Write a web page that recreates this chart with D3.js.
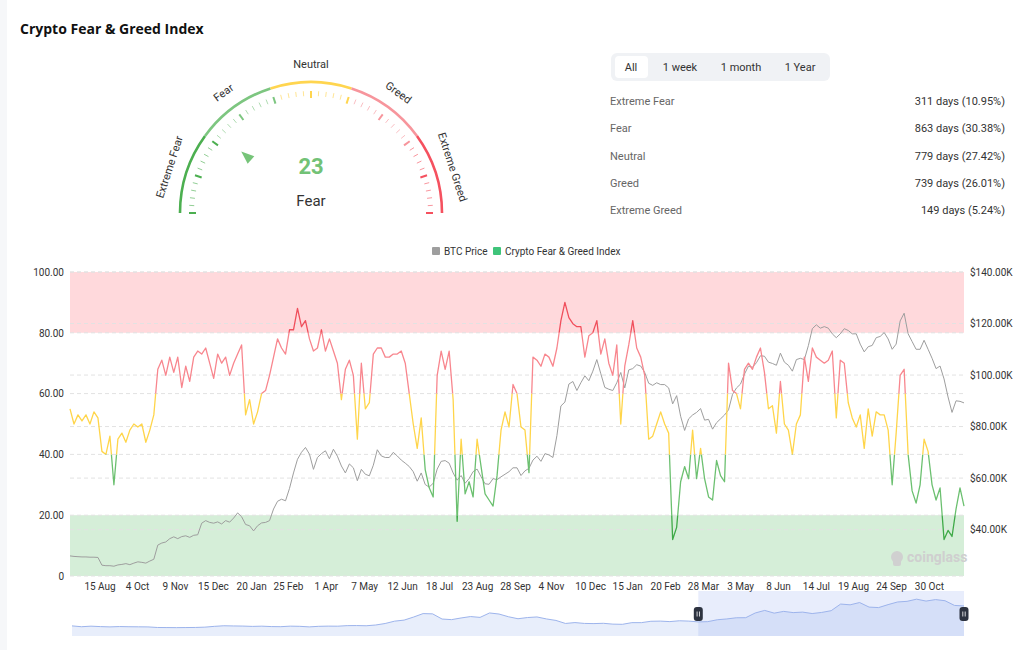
<!DOCTYPE html>
<html>
<head>
<meta charset="utf-8">
<script src="https://cdn.jsdelivr.net/npm/d3@7"></script>
<style>
body { margin: 0; background: #fff; font-family: Roboto, "Noto Sans", sans-serif; }
svg { display: block; }
</style>
</head>
<body>
<svg id="chart" width="1024" height="650"></svg>
<script>

// --> DATA

// fear & greed index, one sample every ~4 days (Aug 2023 -> Dec 2025)
var fngValues = [
  55,50,53,51,53,50,54,52,41,40, 46,30,45,47,44,48,50,49,50,44,
  48,53,68,71,66,72,67,72,62,69, 64,72,74,73,75,70,65,73,70,72,
  66,70,73,76,53,58,50,54,60,61, 66,72,78,75,73,81,81,88,82,84,
  78,74,75,81,74,78,74,70,58,68, 71,66,45,70,55,57,73,75,75,72,
  72,73,73,74,70,60,50,42,52,35, 29,26,66,74,68,74,58,18,45,27,
  31,26,45,36,27,25,23,33,48,54, 49,63,60,49,48,34,72,71,69,73,
  72,69,75,84,90,85,83,82,82,72, 79,80,84,73,78,70,66,76,50,69,
  76,84,75,72,66,45,46,50,54,50, 47,12,16,31,36,32,48,32,42,32,
  26,25,38,33,31,70,61,60,55,68, 70,68,72,75,67,55,56,47,64,50,
  48,40,50,53,72,64,75,72,71,70, 71,74,52,71,70,57,52,49,53,42,
  55,46,54,53,53,48,30,47,66,68, 40,28,24,30,45,41,30,25,29,12,
  15,13,22,29,23
];

// BTC price in thousands of USD, same samples
var btcValues = [
  29.8,29.6,29.5,29.4,29.4,29.3,29.3,29.2,26.2,26.0, 26.0,25.8,26.3,26.5,26.8,26.4,27.0,27.5,27.3,27.0,
  27.8,28.5,34.0,34.8,35.2,36.5,37.2,36.5,37.3,37.6, 37.0,37.8,38.0,42.5,43.5,42.8,42.5,43.0,42.2,43.5,
  42.9,44.5,46.5,45.0,42.0,41.5,39.5,41.5,42.6,42.8, 43.5,48.0,51.0,51.8,51.2,56.0,62.0,67.3,70.0,71.9,
  69.3,63.4,68.0,69.5,70.6,67.5,71.2,68.5,64.7,62.0, 65.5,64.0,59.0,63.4,61.5,60.9,65.0,71.0,68.6,68.0,
  68.0,70.0,68.6,67.0,65.8,64.5,62.5,58.8,62.0,57.5, 56.5,58.0,63.5,66.5,66.8,65.8,62.0,59.2,61.0,58.0,
  59.8,62.5,63.5,60.5,57.8,57.6,59.8,59.4,60.5,61.5, 62.5,64.0,64.0,61.0,62.8,63.8,67.0,68.5,66.5,69.5,
  69.0,68.0,76.5,88.0,89.5,96.5,97.5,94.0,97.0,99.7, 97.8,101.5,106.0,100.5,95.2,94.5,94.0,97.0,101.0,95.0,
  102.0,102.5,104.0,103.5,101.0,96.8,96.0,97.0,96.3,96.3, 95.0,88.8,92.0,84.0,78.5,83.0,84.5,85.5,87.0,82.5,
  82.8,79.0,81.5,83.0,84.5,86.5,92.5,95.0,96.5,100.4, 103.5,103.0,104.8,107.5,107.3,105.0,104.5,103.8,108.5,105.0,
  103.8,101.5,106.0,106.5,106.0,111.4,118.0,119.5,118.2,118.8, 118.2,116.0,114.5,116.0,118.0,117.3,116.0,116.0,112.0,109.0,
  111.0,111.5,114.5,115.0,116.5,114.0,110.0,112.0,121.0,124.0, 116.0,113.0,110.0,110.0,113.5,110.0,106.5,102.5,103.5,98.5,
  91.5,85.5,90.0,89.8,89.2
];

// x axis labels and the sample position they sit on
var tickLabels = ["15 Aug","4 Oct","9 Nov","15 Dec","20 Jan","25 Feb","1 Apr","7 May","12 Jun","18 Jul","23 Aug","28 Sep",
  "4 Nov","10 Dec","15 Jan","20 Feb","28 Mar","3 May","8 Jun","14 Jul","19 Aug","24 Sep","30 Oct"];
var tickAt = [7.4,16.8,26.3,35.8,45.4,54.6,64.1,73.7,83.2,92.5,102.0,111.5,
  120.5,130.3,139.6,149.1,158.6,167.9,177.4,186.9,196.2,205.7,215.2];

var leftTicks = [0, 20, 40, 60, 80, 100];
var rightTicks = [40, 60, 80, 100, 120, 140];

// full BTC history for the zoom slider, monthly (Feb 2018 -> Dec 2025), thousands USD
var btcHistory = [
  10.3,7.0,9.2,7.5,6.4,7.7,7.0,6.6,6.3,4.0,3.7,
  3.4,3.8,4.1,5.3,8.5,10.8,10.1,9.6,8.3,9.2,7.6,7.2,
  9.3,8.6,6.4,8.6,9.4,9.1,11.3,11.6,10.8,13.8,19.7,29.0,
  33.1,45.2,58.8,57.7,37.3,35.0,41.5,47.1,43.8,61.3,57.0,46.3,
  38.5,43.2,45.5,37.7,31.8,19.9,23.3,20.0,19.4,20.5,17.2,16.5,
  23.1,23.1,28.5,29.2,27.2,30.5,29.2,26.0,27.0,34.5,37.7,42.3,
  42.6,61.2,71.3,60.6,67.5,62.7,64.6,59.0,63.3,70.2,96.4,93.4,
  102.4,84.4,82.5,94.2,104.6,107.1,115.7,108.2,114.0,109.5,91.0,89.0
];
var windowStart = 66; // Aug 2023 in btcHistory

var currentValue = 23;
var currentLabel = "Fear";

var gaugeLabels = ["Extreme Fear", "Fear", "Neutral", "Greed", "Extreme Greed"];
var gaugeLabelAt = [10, 30, 50, 70, 90];
var gaugeStops = [0, 20, 40, 60, 80, 100];

var tabs = ["All", "1 week", "1 month", "1 Year"];
var statNames = ["Extreme Fear", "Fear", "Neutral", "Greed", "Extreme Greed"];
var statDays = [311, 863, 779, 739, 149];
var statPct = [10.95, 30.38, 27.42, 26.01, 5.24];

// --> COLOURS

var arcColors = ["#4caf50", "#7dc680", "#ffd54f", "#f7959c", "#f5515f"];
var lineColors = ["#3faa48", "#6cc070", "#ffd54a", "#f8868e", "#f04f5c"];

var width = 1024,
    height = 650;

var svg = d3.select("#chart");

svg.append("rect")
    .attr("x", 0).attr("y", 0)
    .attr("width", 7).attr("height", height)
    .attr("fill", "#f6f7f9");

svg.append("text")
    .attr("x", 20).attr("y", 34)
    .style("font-family", "'Open Sans', sans-serif")
    .style("font-weight", 700)
    .style("font-size", "14px")
    .attr("fill", "#111")
    .text("Crypto Fear & Greed Index");

// --> GAUGE

var gcx = 311, gcy = 213, gR = 131;
var gAngle = d3.scaleLinear().domain([0, 100]).range([-Math.PI / 2, Math.PI / 2]);

function bandColor(v) {
    if (v <= 20) return arcColors[0];
    if (v <= 40) return arcColors[1];
    if (v <= 60) return arcColors[2];
    if (v <= 80) return arcColors[3];
    return arcColors[4];
}

var gauge = svg.append("g").attr("transform", "translate(" + gcx + "," + gcy + ")");

var arc = d3.arc().innerRadius(gR - 1.3).outerRadius(gR + 1.3);

gauge.selectAll("path.band")
    .data(d3.range(gaugeStops.length - 1))
    .enter()
    .append("path")
    .attr("class", "band")
    .attr("d", function (i) {
        return arc({ startAngle: gAngle(gaugeStops[i]), endAngle: gAngle(gaugeStops[i + 1]) });
    })
    .attr("fill", function (i) { return arcColors[i]; });

var tickVals = d3.range(0, 101, 2);

gauge.selectAll("line.gtick")
    .data(tickVals)
    .enter()
    .append("line")
    .attr("class", "gtick")
    .attr("x1", function (d) { return (d % 10 === 0 ? 115 : 117) * Math.sin(gAngle(d)); })
    .attr("y1", function (d) { return -(d % 10 === 0 ? 115 : 117) * Math.cos(gAngle(d)); })
    .attr("x2", function (d) { return 122 * Math.sin(gAngle(d)); })
    .attr("y2", function (d) { return -122 * Math.cos(gAngle(d)); })
    .attr("stroke", function (d) { return bandColor(d === 20 || d === 60 || d === 80 ? d - 1 : d); })
    .attr("stroke-width", function (d) { return d % 10 === 0 ? 2 : 1; })
    .attr("opacity", function (d) { return d % 10 === 0 ? 1 : 0.6; });

gauge.selectAll("text.glabel")
    .data(gaugeLabels)
    .enter()
    .append("text")
    .attr("class", "glabel")
    .attr("transform", function (d, i) {
        var a = gAngle(gaugeLabelAt[i]);
        return "translate(" + (148 * Math.sin(a)) + "," + (-148 * Math.cos(a)) + ") rotate(" + (a * 180 / Math.PI) + ")";
    })
    .attr("text-anchor", "middle")
    .attr("dominant-baseline", "middle")
    .style("font-size", "11px")
    .attr("fill", "#333")
    .text(function (d) { return d; });

gauge.append("path")
    .attr("d", "M0,-93 L-5,-80 L5,-80 Z")
    .attr("transform", "rotate(" + (gAngle(currentValue) * 180 / Math.PI) + ")")
    .attr("fill", "#76c479");

gauge.append("text")
    .attr("x", 0).attr("y", -39)
    .attr("text-anchor", "middle")
    .style("font-size", "22px")
    .style("font-weight", 700)
    .attr("fill", "#72c276")
    .text(currentValue);

gauge.append("text")
    .attr("x", 0).attr("y", -7)
    .attr("text-anchor", "middle")
    .style("font-size", "15px")
    .attr("fill", "#333")
    .text(currentLabel);

// --> TABS AND STATS

svg.append("rect")
    .attr("x", 611).attr("y", 53)
    .attr("width", 219).attr("height", 28)
    .attr("rx", 6)
    .attr("fill", "#f0f2f5");

svg.append("rect")
    .attr("x", 615).attr("y", 56)
    .attr("width", 33).attr("height", 22)
    .attr("rx", 4)
    .attr("fill", "#fff");

var tabX = [631, 680, 741, 800];
svg.selectAll("text.tab")
    .data(tabs)
    .enter()
    .append("text")
    .attr("class", "tab")
    .attr("x", function (d, i) { return tabX[i]; })
    .attr("y", 71)
    .attr("text-anchor", "middle")
    .style("font-size", "11px")
    .attr("fill", "#333")
    .text(function (d) { return d; });

var stats = svg.selectAll("g.stat")
    .data(statNames)
    .enter()
    .append("g")
    .attr("class", "stat")
    .attr("transform", function (d, i) { return "translate(0," + (101 + i * 27.3) + ")"; });

stats.append("text")
    .attr("x", 610).attr("y", 4)
    .style("font-size", "11px")
    .attr("fill", "#666")
    .text(function (d) { return d; });

stats.append("text")
    .attr("x", 1005).attr("y", 4)
    .attr("text-anchor", "end")
    .style("font-size", "11px")
    .attr("fill", "#333")
    .text(function (d, i) { return statDays[i] + " days (" + statPct[i].toFixed(2) + "%)"; });

// --> MAIN CHART

var x = d3.scaleLinear().domain([0, fngValues.length - 1]).range([70, 964]);
var yL = d3.scaleLinear().domain([0, 100]).range([576, 272]);
var yR = d3.scaleLinear().domain([22, 140]).range([576, 272]);

var plot = svg.append("g");

plot.append("rect")
    .attr("x", 70).attr("y", yL(100))
    .attr("width", 894).attr("height", yL(80) - yL(100))
    .attr("fill", "#ffd9dc");

plot.append("rect")
    .attr("x", 70).attr("y", yL(20))
    .attr("width", 894).attr("height", yL(0) - yL(20))
    .attr("fill", "#d5eed8");

var gridY = leftTicks.map(function (d) { return yL(d); })
    .concat(rightTicks.map(function (d) { return yR(d); }));

plot.selectAll("line.grid")
    .data(gridY)
    .enter()
    .append("line")
    .attr("class", "grid")
    .attr("x1", 70).attr("x2", 964)
    .attr("y1", function (d) { return d; })
    .attr("y2", function (d) { return d; })
    .attr("stroke", "#e2e2e2")
    .attr("stroke-dasharray", "4,3");

var axisL = plot.append("g")
    .attr("transform", "translate(70,0)")
    .call(d3.axisLeft(yL).tickValues(leftTicks).tickSize(0).tickPadding(6)
        .tickFormat(function (d) { return d === 0 ? "0" : d.toFixed(2); }));

var axisR = plot.append("g")
    .attr("transform", "translate(964,0)")
    .call(d3.axisRight(yR).tickValues(rightTicks).tickSize(0).tickPadding(6)
        .tickFormat(function (d) { return "$" + d.toFixed(2) + "K"; }));

var axisB = plot.append("g")
    .attr("transform", "translate(0,576)")
    .call(d3.axisBottom(x).tickValues(tickAt).tickSize(0).tickPadding(7)
        .tickFormat(function (d, i) { return tickLabels[i]; }));

[axisL, axisR, axisB].forEach(function (a) {
    a.select(".domain").remove();
    a.selectAll("text")
        .style("font-family", "Roboto, sans-serif")
        .style("font-size", "10px")
        .attr("fill", "#333");
});

// watermark
var wm = plot.append("g").attr("transform", "translate(897,557)");
wm.append("circle").attr("r", 6).attr("fill", "#d0d0d0");
wm.append("rect").attr("x", -4).attr("y", 2).attr("width", 8).attr("height", 7).attr("rx", 2).attr("fill", "#d0d0d0");
wm.append("text")
    .attr("x", 10).attr("y", 5)
    .style("font-size", "14px")
    .style("font-weight", 700)
    .attr("fill", "#cfcfcf")
    .text("coinglass");

var btcLine = d3.line()
    .x(function (d, i) { return x(i); })
    .y(function (d) { return yR(d); });

plot.append("path")
    .datum(btcValues)
    .attr("d", btcLine)
    .attr("fill", "none")
    .attr("stroke", "#9e9e9e")
    .attr("stroke-width", 1);

var fngLine = d3.line()
    .x(function (d, i) { return x(i); })
    .y(function (d) { return yL(d); });

var defs = svg.append("defs");
var bandLo = [-10, 20, 40, 60, 80];
var bandHi = [20, 40, 60, 80, 110];

bandLo.forEach(function (lo, i) {
    defs.append("clipPath")
        .attr("id", "band" + i)
        .append("rect")
        .attr("x", 60).attr("width", 920)
        .attr("y", yL(bandHi[i]))
        .attr("height", yL(lo) - yL(bandHi[i]));

    plot.append("path")
        .datum(fngValues)
        .attr("d", fngLine)
        .attr("clip-path", "url(#band" + i + ")")
        .attr("fill", "none")
        .attr("stroke", lineColors[i])
        .attr("stroke-width", 1.3)
        .attr("stroke-linejoin", "round");
});

// legend
var legend = svg.append("g").attr("transform", "translate(432,251)");
legend.append("rect").attr("x", 0).attr("y", -4).attr("width", 8).attr("height", 8).attr("rx", 1).attr("fill", "#9e9e9e");
legend.append("text").attr("x", 12).attr("y", 3.5).style("font-size", "10px").attr("fill", "#333").text("BTC Price");
legend.append("rect").attr("x", 61).attr("y", -4).attr("width", 8).attr("height", 8).attr("rx", 1).attr("fill", "#3fc47a");
legend.append("text").attr("x", 73).attr("y", 3.5).style("font-size", "10px").attr("fill", "#333").text("Crypto Fear & Greed Index");

// --> ZOOM SLIDER

var xs = d3.scaleLinear().domain([0, btcHistory.length - 1]).range([72, 964]);
var ys = d3.scaleLinear().domain([0, 140]).range([628.5, 593]);

var slider = svg.append("g");

slider.append("path")
    .datum(btcHistory)
    .attr("d", d3.area()
        .x(function (d, i) { return xs(i); })
        .y0(636)
        .y1(function (d) { return ys(d); }))
    .attr("fill", "#e8eefb");

slider.append("rect")
    .attr("x", xs(windowStart)).attr("y", 591)
    .attr("width", 964 - xs(windowStart)).attr("height", 45)
    .attr("fill", "rgba(120,150,240,0.17)");

slider.append("path")
    .datum(btcHistory)
    .attr("d", d3.line()
        .x(function (d, i) { return xs(i); })
        .y(function (d) { return ys(d); }))
    .attr("fill", "none")
    .attr("stroke", "#9db4ec")
    .attr("stroke-width", 1);

var handles = slider.selectAll("g.handle")
    .data([xs(windowStart), 964])
    .enter()
    .append("g")
    .attr("class", "handle")
    .attr("transform", function (d) { return "translate(" + d + ",614)"; });

handles.append("rect")
    .attr("x", -4.5).attr("y", -7)
    .attr("width", 9).attr("height", 14)
    .attr("rx", 3)
    .attr("fill", "#2d3340");

handles.selectAll("line")
    .data([-1.2, 1.2])
    .enter()
    .append("line")
    .attr("x1", function (d) { return d; }).attr("x2", function (d) { return d; })
    .attr("y1", -2.5).attr("y2", 2.5)
    .attr("stroke", "#fff")
    .attr("stroke-width", 0.8);

</script>
</body>
</html>
